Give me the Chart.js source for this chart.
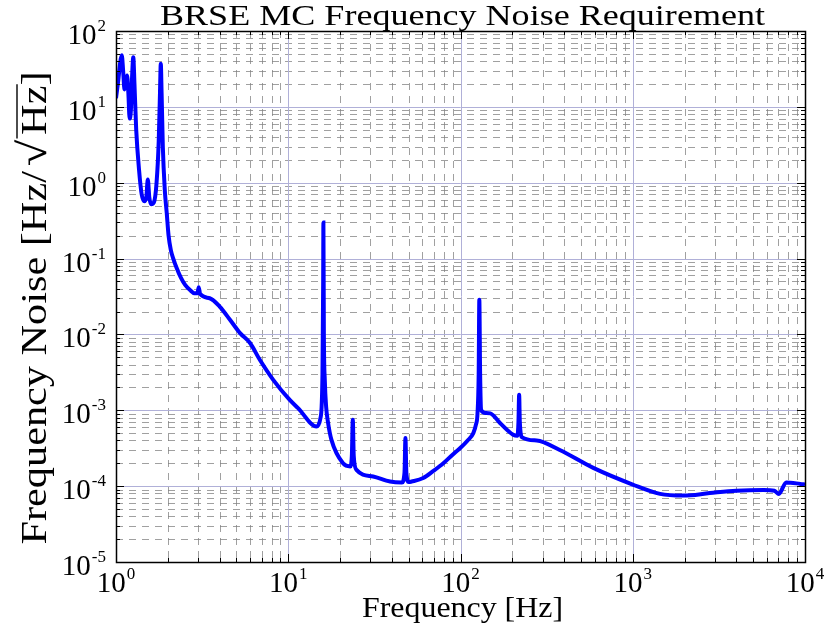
<!DOCTYPE html>
<html>
<head>
<meta charset="utf-8">
<script src="https://cdn.jsdelivr.net/npm/chart.js@4.4.0/dist/chart.umd.min.js"></script>
<style>
  body { margin: 0; background: #fff; }
  #wrap { width: 826px; height: 633px; }
</style>
</head>
<body>
<div id="wrap"><canvas id="chart" width="826" height="633"></canvas></div>
<script>
// values
const freqs = [
  1.0, 1.03, 1.06, 1.08, 1.10, 1.12, 1.14, 1.16, 1.18, 1.20, 1.22, 1.24, 1.26, 1.28, 1.31,
  1.36, 1.41, 1.46, 1.50, 1.53, 1.56, 1.60, 1.66, 1.72, 1.77, 1.80, 1.82, 1.84, 1.87, 1.92,
  1.97, 2.02, 2.08, 2.15, 2.25, 2.38, 2.52, 2.69, 2.85, 2.97, 3.02, 3.08, 3.5, 4.0, 4.6,
  5.25, 6.0, 6.85, 8.2, 10.2, 11.4, 14.6, 15.4, 15.8, 15.95, 16.0, 16.1, 16.3, 16.6, 17.0,
  17.8, 20.8, 22.9, 23.4, 23.7, 24.0, 24.9, 31.1, 39, 45.7, 47.3, 47.9, 48.5, 50.0, 52.0,
  60.8, 70, 79.5, 90, 100, 110, 118.7, 123, 125.5, 127.5, 128.6, 130, 132, 140, 149,
  169.5, 201, 214, 217, 219, 221, 228, 277, 377, 590, 1000, 1440, 1970, 2800, 4000,
  5750, 6640, 7050, 7780, 9400, 10000
];
const noise = [
  13, 22, 40, 48, 30, 17, 22, 26, 15, 7, 9, 25, 45, 20, 5,
  1.5, 0.7, 0.57, 0.65, 1.1, 0.65, 0.52, 0.55, 1.0, 3.5, 15, 37, 15, 3, 0.8,
  0.4, 0.2, 0.13, 0.1, 0.075, 0.056, 0.045, 0.0385, 0.035, 0.035, 0.042, 0.034, 0.030, 0.0233, 0.0155,
  0.0104, 0.0077, 0.0046, 0.0025, 0.00137, 0.00107, 0.00061, 0.0008, 0.003, 0.05, 0.30, 0.01, 0.0025, 0.0011, 0.0007,
  0.00041, 0.0002, 0.000182, 0.00025, 0.00075, 0.00025, 0.000164, 0.000134, 0.000115, 0.000112, 0.00015, 0.00043, 0.00015, 0.000113, 0.000115,
  0.000128, 0.00016, 0.0002, 0.00026, 0.00032, 0.0004, 0.0005, 0.00065, 0.0009, 0.003, 0.0286, 0.003, 0.001, 0.00092, 0.00091,
  0.00068, 0.00048, 0.00046, 0.0007, 0.0016, 0.0007, 0.00044, 0.0004, 0.0003, 0.000174, 0.000105, 0.000079, 0.000075, 0.000081, 0.000087,
  0.000089, 0.000087, 0.000079, 0.000112, 0.000107, 0.000105
];

const xDecades = [1, 10, 100, 1000, 10000];
const xTickExp = ['0', '1', '2', '3', '4'];
const yDecades = [1e-5, 1e-4, 1e-3, 1e-2, 1e-1, 1, 10, 100];
const yTickExp = ['-5', '-4', '-3', '-2', '-1', '0', '1', '2'];

const titleText = 'BRSE MC Frequency Noise Requirement';
const xTitleText = 'Frequency [Hz]';
const yTitleParts = ['Frequency Noise [Hz/', '\u221A', 'Hz', ']'];

const SERIF = '"Liberation Serif", "DejaVu Serif", serif';

function minorValues(decades) {
  const out = [];
  for (let i = 0; i < decades.length - 1; i++) {
    for (let m = 2; m <= 9; m++) out.push(decades[i] * m);
  }
  return out;
}

function seg(ctx, x1, y1, x2, y2) {
  ctx.beginPath();
  ctx.moveTo(x1, y1);
  ctx.lineTo(x2, y2);
  ctx.stroke();
}

// text squeezed/stretched to the width it takes in the reference
function fitText(ctx, text, cx, cy, width, font) {
  ctx.font = font;
  const w = ctx.measureText(text).width;
  ctx.save();
  ctx.translate(cx, cy);
  ctx.scale(width / w, 1);
  ctx.textAlign = 'center';
  ctx.textBaseline = 'alphabetic';
  ctx.fillText(text, 0, 0);
  ctx.restore();
}

function drawPow(ctx, exp, x, y, align) {
  const big = '29px ' + SERIF, small = '17px ' + SERIF;
  ctx.font = big;
  const wb = ctx.measureText('10').width;
  ctx.font = small;
  const we = ctx.measureText(exp).width;
  const total = wb + 1 + we;
  const x0 = align === 'right' ? x - total : x - total / 2;
  ctx.textAlign = 'left';
  ctx.textBaseline = 'alphabetic';
  ctx.font = big;
  ctx.fillText('10', x0, y);
  ctx.font = small;
  ctx.fillText(exp, x0 + wb + 1, y - 13);
}

const matlabAxes = {
  id: 'matlabAxes',
  beforeDatasetsDraw(chart) {
    const { ctx, chartArea: a, scales: { x, y } } = chart;
    ctx.save();
    ctx.lineWidth = 1;
    ctx.strokeStyle = 'rgba(128,128,128,0.75)';
    ctx.setLineDash([7, 6]);
    minorValues(xDecades).forEach(v => {
      const px = Math.round(x.getPixelForValue(v)) + 0.5;
      seg(ctx, px, a.top, px, a.bottom);
    });
    minorValues(yDecades).forEach(v => {
      const py = Math.round(y.getPixelForValue(v)) + 0.5;
      seg(ctx, a.left, py, a.right, py);
    });
    ctx.setLineDash([]);
    ctx.strokeStyle = '#b0b0d8';
    xDecades.slice(1, -1).forEach(v => {
      const px = Math.round(x.getPixelForValue(v)) + 0.5;
      seg(ctx, px, a.top, px, a.bottom);
    });
    yDecades.slice(1, -1).forEach(v => {
      const py = Math.round(y.getPixelForValue(v)) + 0.5;
      seg(ctx, a.left, py, a.right, py);
    });
    ctx.restore();
  },
  afterDatasetsDraw(chart) {
    const { ctx, chartArea: a, scales: { x, y } } = chart;
    ctx.save();
    ctx.strokeStyle = '#000';
    ctx.lineWidth = 1;
    // inward ticks on all four sides
    const tickX = (v, len) => {
      const px = Math.round(x.getPixelForValue(v)) + 0.5;
      seg(ctx, px, a.bottom, px, a.bottom - len);
      seg(ctx, px, a.top, px, a.top + len);
    };
    const tickY = (v, len) => {
      const py = Math.round(y.getPixelForValue(v)) + 0.5;
      seg(ctx, a.left, py, a.left + len, py);
      seg(ctx, a.right, py, a.right - len, py);
    };
    minorValues(xDecades).forEach(v => tickX(v, 4));
    xDecades.forEach(v => tickX(v, 8));
    minorValues(yDecades).forEach(v => tickY(v, 4));
    yDecades.forEach(v => tickY(v, 8));
    ctx.lineWidth = 1.5;
    ctx.strokeRect(Math.round(a.left) + 0.5, Math.round(a.top) + 0.5,
      Math.round(a.right - a.left), Math.round(a.bottom - a.top));

    // tick labels
    ctx.fillStyle = '#000';
    xDecades.forEach((v, i) => drawPow(ctx, xTickExp[i], x.getPixelForValue(v), a.bottom + 30, 'center'));
    yDecades.forEach((v, i) => drawPow(ctx, yTickExp[i], a.left - 10, y.getPixelForValue(v) + 13, 'right'));

    // titles
    const mid = (a.left + a.right) / 2 + 2;
    fitText(ctx, titleText, mid, 25, 605, '30px ' + SERIF);
    fitText(ctx, xTitleText, mid, 617, 201, '30px ' + SERIF);

    // y title with sqrt(Hz), fitted to its length in the reference
    const font = '35px ' + SERIF, rootFont = '40px ' + SERIF;
    const fonts = yTitleParts.map(t => t === '\u221A' ? rootFont : font);
    const pads = yTitleParts.map(t => t === '\u221A' ? 4 : 0);
    const widths = yTitleParts.map((t, i) => { ctx.font = fonts[i]; return ctx.measureText(t).width + pads[i] * 2; });
    const total = widths.reduce((s, w) => s + w, 0);
    ctx.save();
    ctx.translate(46, 308);
    ctx.rotate(-Math.PI / 2);
    ctx.scale(473 / total, 1);
    ctx.textAlign = 'left';
    ctx.textBaseline = 'alphabetic';
    let cx = -total / 2;
    yTitleParts.forEach((t, i) => {
      ctx.font = fonts[i];
      ctx.fillText(t, cx + pads[i], 0);
      if (t === 'Hz') {
        ctx.lineWidth = 1.4;
        seg(ctx, cx - 3, -29, cx + widths[i] + 1, -29);
      }
      cx += widths[i];
    });
    ctx.restore();
    ctx.restore();
  }
};

new Chart(document.getElementById('chart'), {
  type: 'line',
  data: {
    datasets: [{
      data: freqs.map((f, i) => ({ x: f, y: noise[i] })),
      borderColor: 'rgb(0, 0, 255)',
      borderWidth: 4,
      pointRadius: 0,
      fill: false,
      cubicInterpolationMode: 'monotone'
    }]
  },
  options: {
    responsive: false,
    animation: false,
    devicePixelRatio: 1,
    events: [],
    layout: { padding: { left: 116, right: 21, top: 31, bottom: 71 } },
    plugins: { legend: { display: false }, title: { display: false }, tooltip: { enabled: false } },
    scales: {
      x: { type: 'logarithmic', min: 1, max: 10000, display: false },
      y: { type: 'logarithmic', min: 1e-5, max: 100, display: false }
    }
  },
  plugins: [matlabAxes]
});
</script>
</body>
</html>
